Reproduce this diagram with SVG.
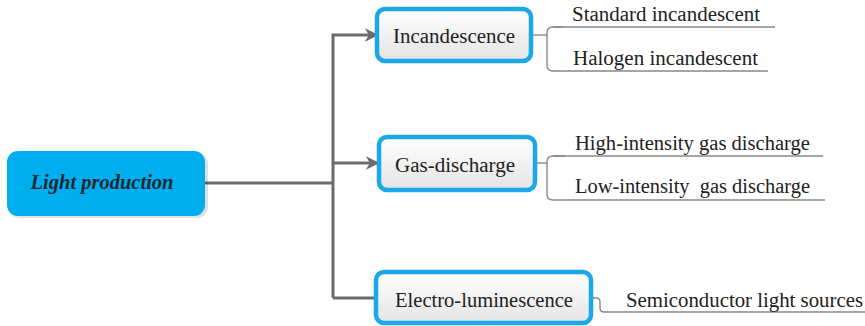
<svg xmlns="http://www.w3.org/2000/svg" width="865" height="326" viewBox="0 0 865 326">
<defs>
<linearGradient id="g" x1="0" y1="0" x2="0" y2="1"><stop offset="0" stop-color="#ffffff"/><stop offset="1" stop-color="#e4e4e4"/></linearGradient>
<marker id="ar" viewBox="0 0 10 10" refX="9" refY="5" markerWidth="4.5" markerHeight="4.5" orient="auto" markerUnits="strokeWidth"><path d="M0,0 L10,5 L0,10 L3,5 Z" fill="#6b6b6b"/></marker>
</defs>
<style>
text{font-family:"Liberation Serif","Times New Roman",serif;fill:#222222;}
.n{font-size:20.5px;text-anchor:middle;}
.l{font-size:20px;}
.box{fill:url(#g);stroke:#1ba8e6;stroke-width:4.5;}
.trunk{fill:none;stroke:#6b6b6b;stroke-width:3;}
.br{fill:none;stroke:#888888;stroke-width:1.4;}
</style>
<rect width="865" height="326" fill="#ffffff"/>
<g id="connectors">
<path class="trunk" d="M205,183 H333"/>
<path class="trunk" d="M333,298 V35 H377" marker-end="url(#ar)"/>
<path class="trunk" d="M333,163 H378" marker-end="url(#ar)"/>
<path class="trunk" d="M333,298 H375"/>
<path class="br" d="M533,35 H547"/>
<path class="br" d="M563,27 H553 Q547,27 547,33 V65 Q547,71 553,71 H768"/>
<path class="br" d="M553,27 H775"/>
<path class="br" d="M537,163 H547"/>
<path class="br" d="M565,156 H553 Q547,156 547,162 V194 Q547,200 553,200 H825"/>
<path class="br" d="M553,156 H823"/>
<path class="br" d="M592,298 H596 Q600,298 600,302 V308 Q600,312 604,312 H865"/>
</g>
<g id="root">
<rect x="9" y="153" width="199" height="65" rx="11" fill="#000000" opacity="0.12"/>
<rect x="7" y="151" width="198" height="65" rx="11" fill="#00aeef"/>
<text x="102" y="189" font-size="20.5" font-weight="bold" font-style="italic" text-anchor="middle" style="fill:#1e2a33">Light production</text>
</g>
<g id="incandescence">
<rect class="box" x="377" y="9" width="154" height="52" rx="8"/>
<text class="n" x="454" y="43" textLength="122" lengthAdjust="spacingAndGlyphs">Incandescence</text>
</g>
<g id="gas-discharge">
<rect class="box" x="379" y="137" width="156" height="53" rx="8"/>
<text class="n" x="455" y="172" textLength="120" lengthAdjust="spacingAndGlyphs">Gas-discharge</text>
</g>
<g id="electro">
<rect class="box" x="376" y="272" width="215" height="51" rx="8"/>
<text class="n" x="484" y="307" textLength="178" lengthAdjust="spacingAndGlyphs">Electro-luminescence</text>
</g>
<g id="leaf-standard"><text class="l" x="572" y="21" textLength="188" lengthAdjust="spacingAndGlyphs">Standard incandescent</text></g>
<g id="leaf-halogen"><text class="l" x="573" y="65" textLength="185" lengthAdjust="spacingAndGlyphs">Halogen incandescent</text></g>
<g id="leaf-high"><text class="l" x="575" y="150" textLength="235" lengthAdjust="spacingAndGlyphs">High-intensity gas discharge</text></g>
<g id="leaf-low"><text class="l" x="575" y="193" textLength="235" lengthAdjust="spacingAndGlyphs" xml:space="preserve">Low-intensity  gas discharge</text></g>
<g id="leaf-semi"><text class="l" x="626" y="307" textLength="237" lengthAdjust="spacingAndGlyphs">Semiconductor light sources</text></g>
</svg>
